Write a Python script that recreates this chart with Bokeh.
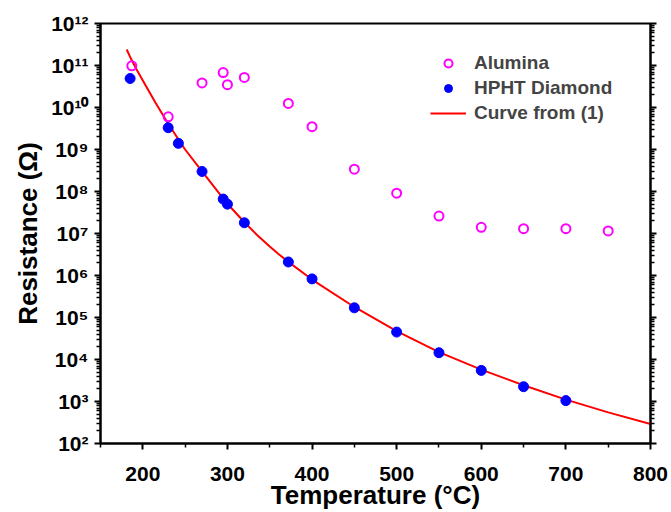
from bokeh.plotting import figure
from bokeh.models import LogAxis, FixedTicker, Legend, LegendItem, Range1d
from bokeh.embed import file_html
from bokeh.resources import INLINE

# ---- data ----
alumina_T = [187, 230, 270, 295, 300, 320, 372, 400, 450, 500, 550, 600, 650, 700, 750]
alumina_R = [9.8e10, 6.0e9, 3.85e10, 6.8e10, 3.5e10, 5.2e10, 1.25e10, 3.5e9, 3.4e8,
             9.1e7, 2.6e7, 1.4e7, 1.3e7, 1.3e7, 1.15e7]

diamond_T = [185, 230, 242, 270, 295, 300, 320, 372, 400, 450, 500, 550, 600, 650, 700]
diamond_R = [4.9e10, 3.3e9, 1.4e9, 3.0e8, 6.6e7, 5.0e7, 1.8e7, 2.1e6, 8.3e5, 1.7e5,
             4.5e4, 1.45e4, 5.5e3, 2.25e3, 1.05e3]

curve_T = [181, 185, 192, 200, 215, 230, 250, 270, 300, 320, 335, 350, 360, 372, 400,
           450, 500, 550, 600, 650, 700, 750, 800]
curve_R = [2.4e11, 1.6e11, 8.5e10, 4.4e10, 1.3e10, 4.1e9, 1.0e9, 3.0e8, 5.1e7, 1.85e7,
           9.25e6, 4.88e6, 3.28e6, 2.11e6, 8.0e5, 1.78e5, 4.75e4, 1.5e4, 5.75e3, 2.43e3,
           1.11e3, 5.5e2, 2.92e2]

x_ticks = [200, 300, 400, 500, 600, 700, 800]
x_minor = [150, 250, 350, 450, 550, 650, 750]
y_ticks = [1e2, 1e3, 1e4, 1e5, 1e6, 1e7, 1e8, 1e9, 1e10, 1e11, 1e12]
y_labels = ["10²", "10³", "10⁴", "10⁵", "10⁶", "10⁷", "10⁸", "10⁹", "10¹⁰", "10¹¹", "10¹²"]
y_minor = [m * 10 ** e for e in range(2, 12) for m in range(2, 10)]

FONT = "Liberation Sans"

p = figure(width=671, height=512, x_range=Range1d(150, 800), y_range=Range1d(1e2, 1e12),
           y_axis_type="log", output_backend="svg", toolbar_location=None,
           min_border_left=100, min_border_top=23, min_border_right=21, min_border_bottom=40)
p.grid.visible = False
p.outline_line_color = "black"
p.outline_line_width = 2
p.background_fill_color = "white"
p.border_fill_color = "white"

r_line = p.line(curve_T, curve_R, line_color="#FF0000", line_width=2)
r_alu = p.scatter(alumina_T, alumina_R, marker="circle", size=9, fill_color=None,
                  line_color="#FF00FF", line_width=2)
r_dia = p.scatter(diamond_T, diamond_R, marker="circle", size=10, fill_color="#0000FF",
                  line_color="#0000FF")

xa = p.xaxis[0]
xa.ticker = FixedTicker(ticks=x_ticks, minor_ticks=x_minor)
xa.axis_label = "Temperature (°C)"
ya = p.yaxis[0]
ya.ticker = FixedTicker(ticks=y_ticks, minor_ticks=y_minor)
ya.major_label_overrides = {t: l for t, l in zip(y_ticks, y_labels)}
ya.axis_label = "Resistance (Ω)"

for ax in (xa, ya):
    ax.axis_line_width = 2
    ax.major_tick_line_width = 2
    ax.minor_tick_line_width = 1.5
    ax.major_tick_out = 6
    ax.major_tick_in = 0
    ax.minor_tick_out = 4
    ax.minor_tick_in = 0
    ax.major_label_text_font = FONT
    ax.major_label_text_font_style = "bold"
    ax.major_label_text_font_size = "21px"
    ax.major_label_text_color = "black"
    ax.axis_label_text_font = FONT
    ax.axis_label_text_font_style = "bold"
    ax.axis_label_text_font_size = "26px"
    ax.axis_label_text_color = "black"
xa.major_label_standoff = 17
xa.axis_label_standoff = -4
ya.major_label_standoff = 6
ya.axis_label_standoff = 5

ra = LogAxis(ticker=FixedTicker(ticks=y_ticks, minor_ticks=y_minor))
ra.major_label_text_font_size = "1px"
ra.major_label_text_color = None
ra.major_label_standoff = 0
ra.axis_line_width = 2
ra.major_tick_line_width = 2
ra.minor_tick_line_width = 1.5
ra.major_tick_out = 6
ra.major_tick_in = 0
ra.minor_tick_out = 4
ra.minor_tick_in = 0
p.add_layout(ra, "right")

legend = Legend(items=[LegendItem(label="Alumina", renderers=[r_alu]),
                       LegendItem(label="HPHT Diamond", renderers=[r_dia]),
                       LegendItem(label="Curve from (1)", renderers=[r_line])],
                location=(330, 319))
legend.border_line_color = None
legend.background_fill_alpha = 0
legend.label_text_font = FONT
legend.label_text_font_style = "bold"
legend.label_text_font_size = "19px"
legend.glyph_width = 36
legend.glyph_height = 20
legend.label_standoff = 8
legend.spacing = 3
legend.padding = 0
legend.margin = 0
p.add_layout(legend)

open("out.html", "w").write(file_html(p, INLINE))
